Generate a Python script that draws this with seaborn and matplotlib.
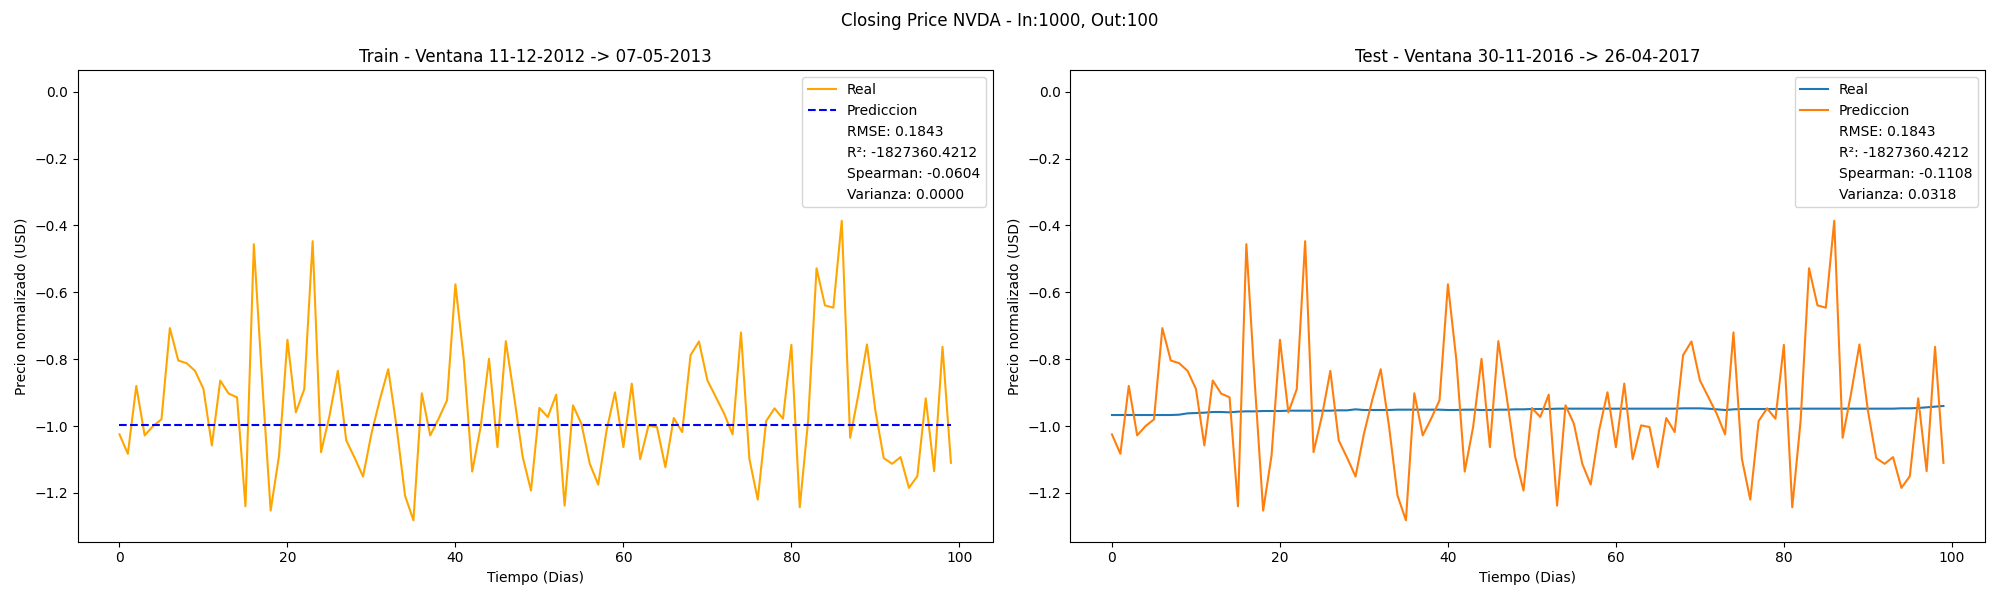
import seaborn as sns
import matplotlib.pyplot as plt
import pandas as pd

dias = list(range(100))

# serie naranja (Real en train / Prediccion en test)
serie_naranja = [
    -1.025, -1.083, -0.880, -1.028, -1.000, -0.980, -0.707, -0.804, -0.812, -0.835,
    -0.889, -1.058, -0.864, -0.903, -0.914, -1.240, -0.456, -0.870, -1.253, -1.088,
    -0.742, -0.959, -0.890, -0.447, -1.078, -0.970, -0.835, -1.043, -1.095, -1.151,
    -1.023, -0.921, -0.830, -1.003, -1.208, -1.282, -0.902, -1.028, -0.978, -0.923,
    -0.576, -0.801, -1.136, -1.003, -0.799, -1.063, -0.746, -0.913, -1.091, -1.193,
    -0.946, -0.973, -0.906, -1.238, -0.938, -0.993, -1.113, -1.175, -1.013, -0.899,
    -1.063, -0.873, -1.099, -0.998, -1.003, -1.123, -0.976, -1.018, -0.788, -0.747,
    -0.863, -0.913, -0.963, -1.025, -0.720, -1.098, -1.220, -0.985, -0.947, -0.978,
    -0.757, -1.243, -0.983, -0.528, -0.639, -0.646, -0.386, -1.035, -0.903, -0.756,
    -0.953, -1.096, -1.113, -1.093, -1.185, -1.150, -0.917, -1.135, -0.763, -1.110,
]

pred_train = [-0.997] * 100

real_test = [
    -0.967, -0.967, -0.967, -0.967, -0.967, -0.967, -0.967, -0.967, -0.966, -0.962,
    -0.961, -0.960, -0.958, -0.958, -0.959, -0.957, -0.956, -0.956, -0.955, -0.955,
    -0.955, -0.954, -0.954, -0.954, -0.954, -0.954, -0.954, -0.953, -0.953, -0.950,
    -0.952, -0.952, -0.952, -0.952, -0.951, -0.951, -0.951, -0.951, -0.951, -0.951,
    -0.952, -0.952, -0.951, -0.951, -0.952, -0.952, -0.951, -0.951, -0.950, -0.950,
    -0.949, -0.949, -0.949, -0.948, -0.948, -0.948, -0.948, -0.948, -0.948, -0.948,
    -0.948, -0.948, -0.948, -0.948, -0.948, -0.948, -0.948, -0.948, -0.947, -0.947,
    -0.947, -0.948, -0.950, -0.952, -0.950, -0.949, -0.949, -0.949, -0.949, -0.949,
    -0.949, -0.948, -0.948, -0.948, -0.948, -0.948, -0.948, -0.948, -0.948, -0.948,
    -0.948, -0.948, -0.948, -0.948, -0.947, -0.947, -0.946, -0.944, -0.942, -0.940,
]

metricas_train = ['RMSE: 0.1843', 'R²: -1827360.4212', 'Spearman: -0.0604', 'Varianza: 0.0000']
metricas_test = ['RMSE: 0.1843', 'R²: -1827360.4212', 'Spearman: -0.1108', 'Varianza: 0.0318']

df = pd.DataFrame({'dia': dias, 'naranja': serie_naranja,
                   'pred_train': pred_train, 'real_test': real_test})

fig, axes = plt.subplots(1, 2, figsize=(20, 6))

ax = axes[0]
sns.lineplot(data=df, x='dia', y='naranja', color='orange', label='Real', ax=ax)
sns.lineplot(data=df, x='dia', y='pred_train', color='blue', linestyle='--', label='Prediccion', ax=ax)
for m in metricas_train:
    ax.plot([], [], ' ', label=m)
ax.set_title('Train - Ventana 11-12-2012 -> 07-05-2013')

ax = axes[1]
sns.lineplot(data=df, x='dia', y='real_test', color='tab:blue', label='Real', ax=ax)
sns.lineplot(data=df, x='dia', y='naranja', color='tab:orange', label='Prediccion', ax=ax)
for m in metricas_test:
    ax.plot([], [], ' ', label=m)
ax.set_title('Test - Ventana 30-11-2016 -> 26-04-2017')

for ax in axes:
    ax.set_xlim(-4.95, 103.95)
    ax.set_ylim(-1.346, 0.064)
    ax.set_xlabel('Tiempo (Dias)')
    ax.set_ylabel('Precio normalizado (USD)')
    ax.legend(loc='upper right')

fig.suptitle('Closing Price NVDA - In:1000, Out:100')
plt.tight_layout()
plt.savefig('out.png', dpi=100)
